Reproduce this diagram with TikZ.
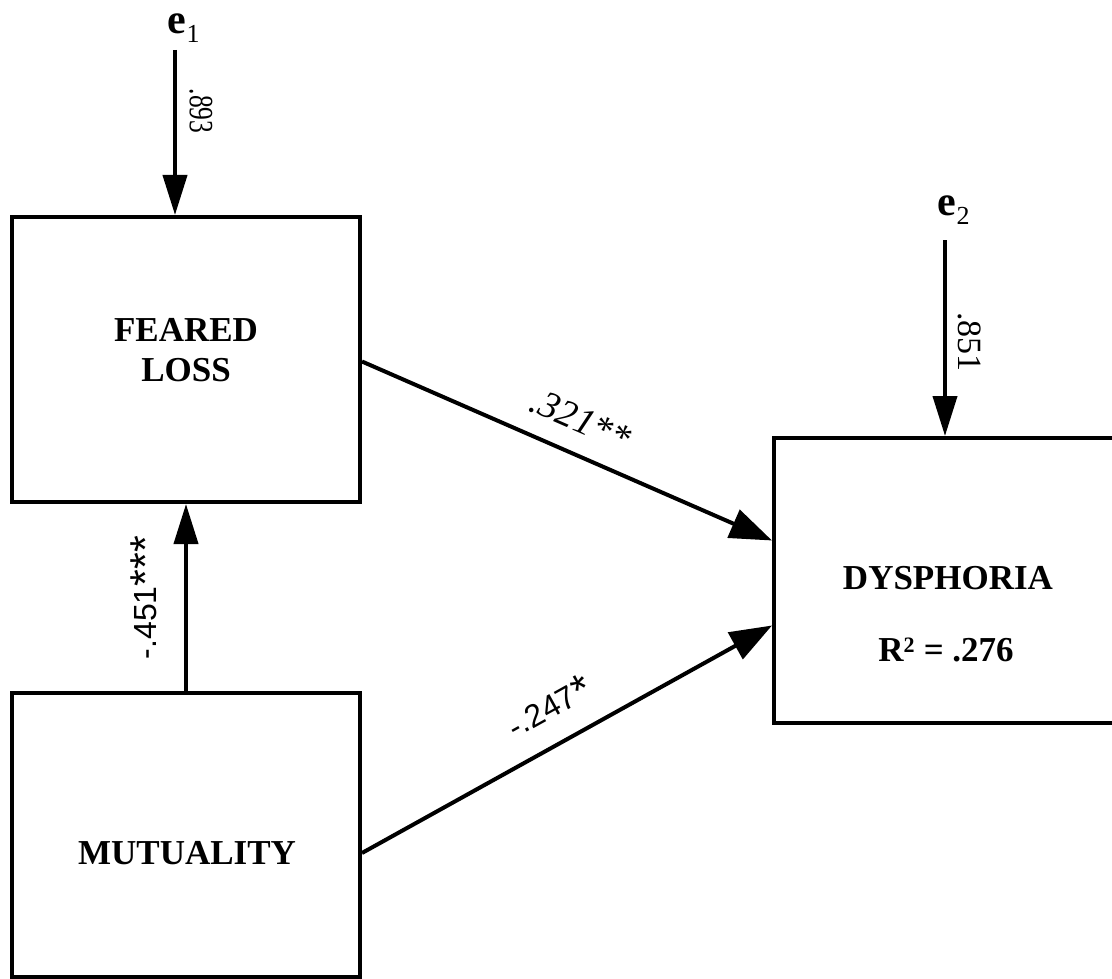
\documentclass[tikz,border=0pt]{standalone}
\usepackage{fontspec}
\setmainfont{Liberation Serif}
\newfontfamily\lsans{Liberation Sans}
\usetikzlibrary{arrows.meta,calc}
\newcommand{\bigast}{\raisebox{-0.12em}{\scalebox{1.35}{*}}}
\begin{document}
\begin{tikzpicture}[x=1pt,y=-1pt,
  box/.style={draw,line width=4pt,inner sep=0pt},
  boxtext/.style={font=\bfseries\fontsize{35}{40}\selectfont,align=center,inner sep=0pt},
  arr/.style={line width=4pt,-{Triangle[length=40pt,width=24pt]}},
  darr/.style={line width=4pt,-{Triangle[length=42pt,width=30pt]}},
  errlbl/.style={font=\fontsize{42}{42}\selectfont,inner sep=0pt},
  coef/.style={font=\fontsize{34}{34}\selectfont,sloped},
  coefi/.style={font=\itshape\fontsize{38}{38}\selectfont,sloped},
  coefs/.style={font=\lsans\fontsize{32}{32}\selectfont,sloped}]
\useasboundingbox (0,0) rectangle (1112,979);
\clip (0,0) rectangle (1112,979);

% boxes
\node[box,minimum width=348pt,minimum height=285pt] (fl) at (186,359.5) {};
\node[box,minimum width=348pt,minimum height=284pt] (mut) at (186,835) {};
\node[box,minimum width=346pt,minimum height=285pt] (dys) at (947,580.5) {};

% box texts
\node[boxtext] (flt) at (186,350) {FEARED\\LOSS};
\node[boxtext] (mutt) at (187,853) {MUTUALITY};
\node[boxtext] (dyst) at (948,578) {DYSPHORIA};
\node[boxtext] (r2) at (946,650) {R\textsuperscript{\fontsize{22}{22}\selectfont 2} = .276};

% error terms
\node[errlbl] (e1) at (184,28) {\textbf{e}\textsubscript{\fontsize{26}{26}\selectfont 1}};
\node[errlbl] (e2) at (954,210) {\textbf{e}\textsubscript{\fontsize{26}{26}\selectfont 2}};
\coordinate (c1) at (175,50);
\coordinate (c2) at (945,240);

% arrows
\draw[arr] (c1) -- (c1 |- fl.north)
  node[coef,pos=0.37,above=9pt] (l893) {\scalebox{0.75}[1]{.893}};
\draw[arr] (c2) -- (c2 |- dys.north)
  node[coef,pos=0.52,above=8pt] (l851) {.851};
\draw[arr] (mut.north) -- (fl.south)
  node[coefs,midway,above=20pt] (l451) {-.451\bigast\bigast\bigast};
\draw[darr] ($(fl.east)+(0,2)$) -- ($(dys.west)+(0,-40)$)
  node[coefi,pos=0.5,above=16pt] (l321) {.321**};
\draw[darr] ($(mut.east)+(0,18)$) -- ($(dys.west)+(0,45)$)
  node[coefs,pos=0.5,above=16pt] (l247) {-.247\bigast};
\end{tikzpicture}
\end{document}
